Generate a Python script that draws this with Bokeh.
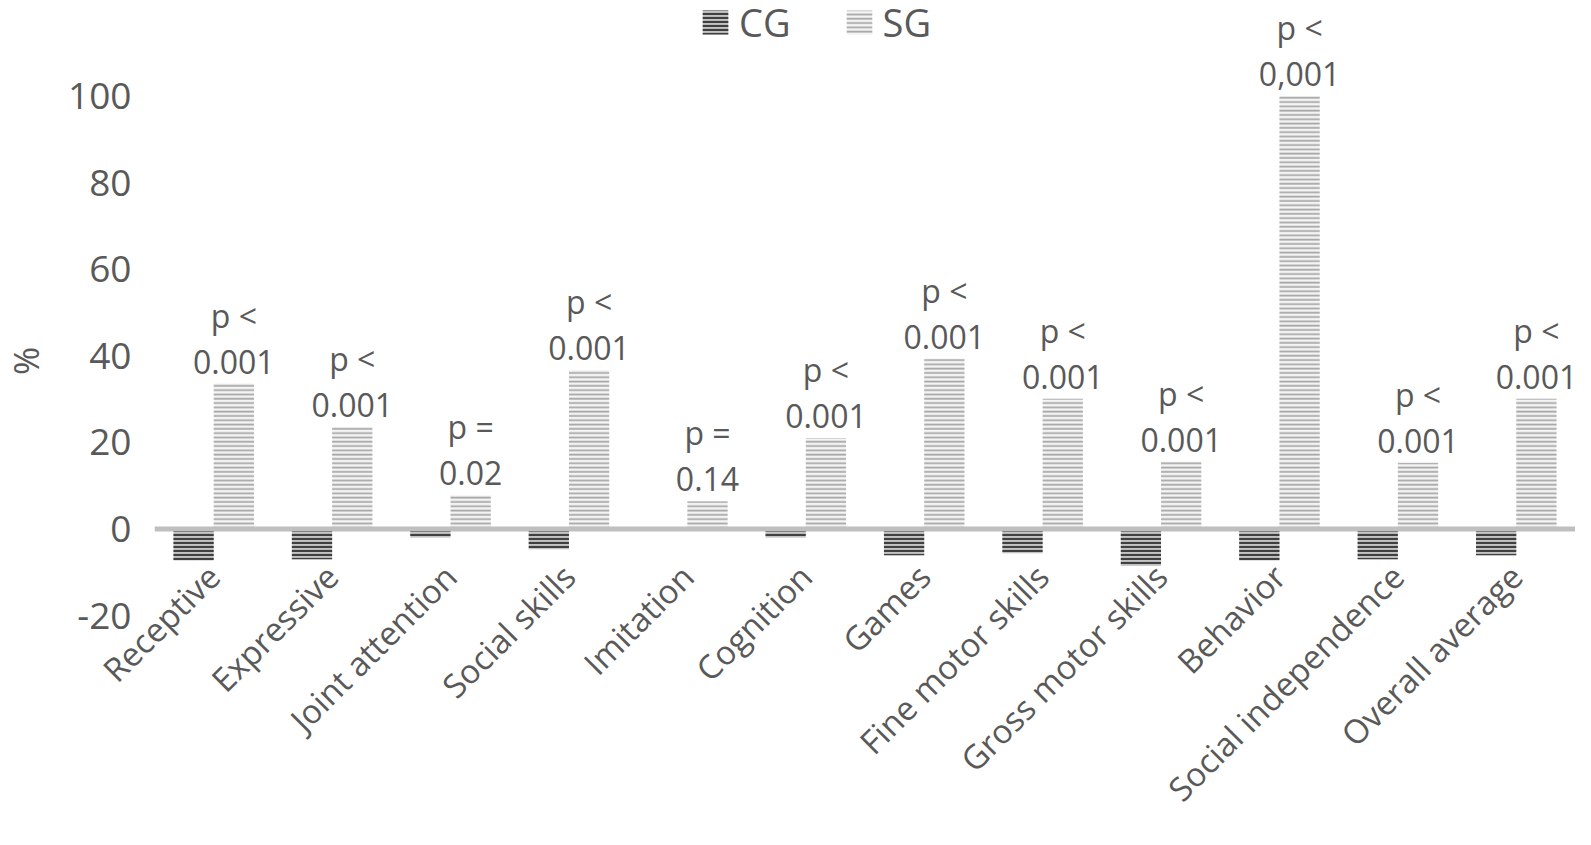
import math
from bokeh.plotting import figure
from bokeh.models import (ColumnDataSource, FactorRange, Range1d, FixedTicker, Span, Legend,
                          LegendItem, LabelSet)
from bokeh.transform import dodge
from bokeh.core.properties import value
from bokeh.embed import file_html
from bokeh.resources import INLINE

categories = ["Receptive", "Expressive", "Joint attention", "Social skills", "Imitation",
              "Cognition", "Games", "Fine motor skills", "Gross motor skills", "Behavior",
              "Social independence", "Overall average"]
cg = [-7.3, -7.0, -2.0, -4.7, 0.0, -2.0, -6.1, -5.6, -8.5, -7.3, -7.0, -6.1]
sg = [33.6, 23.5, 7.8, 36.7, 6.4, 21.0, 39.3, 30.1, 15.5, 100.0, 15.3, 30.1]
p_op = ["p <", "p <", "p =", "p <", "p =", "p <", "p <", "p <", "p <", "p <", "p <", "p <"]
p_val = ["0.001", "0.001", "0.02", "0.001", "0.14", "0.001", "0.001", "0.001", "0.001",
         "0,001", "0.001", "0.001"]
y_ticks = [-20, 0, 20, 40, 60, 80, 100]
y_title = "%"

FONT = "Open Sans"
TXT = "#595959"

src = ColumnDataSource(dict(cat=categories, cg=cg, sg=sg, op=p_op, pv=p_val))

p = figure(x_range=FactorRange(*categories, range_padding=0), y_range=Range1d(-20, 122.1),
           width=1575, height=829, output_backend="svg", toolbar_location=None,
           min_border_left=147, min_border_right=0, min_border_top=0, min_border_bottom=212)
p.outline_line_color = None
p.xgrid.visible = False
p.ygrid.visible = False
p.background_fill_color = "white"

r_cg = p.vbar(x=dodge("cat", -0.17, range=p.x_range), top="cg", bottom=0, width=0.34, source=src,
              fill_color="#c4c4c4", line_color=None,
              hatch_pattern="horizontal_line", hatch_color="#404040", hatch_scale=4, hatch_weight=2.2)
r_sg = p.vbar(x=dodge("cat", 0.17, range=p.x_range), top="sg", bottom=0, width=0.34, source=src,
              fill_color="#f4f4f4", line_color=None,
              hatch_pattern="horizontal_line", hatch_color="#a8a8a8", hatch_scale=4.3, hatch_weight=1.8)

p.add_layout(Span(location=0, dimension="width", line_color="#bfbfbf", line_width=5))

lab2 = LabelSet(x=dodge("cat", 0.17, range=p.x_range), y="sg", text="pv", source=src,
                text_align="center", text_baseline="bottom", y_offset=10,
                text_font=value(FONT), text_font_size="32px", text_color=TXT)
lab1 = LabelSet(x=dodge("cat", 0.17, range=p.x_range), y="sg", text="op", source=src,
                text_align="center", text_baseline="bottom", y_offset=47,
                text_font=value(FONT), text_font_size="32px", text_color=TXT)
p.add_layout(lab2)
p.add_layout(lab1)

# y axis
p.yaxis.ticker = FixedTicker(ticks=y_ticks)
p.yaxis.major_label_overrides = {-20: "-20"}
p.yaxis.axis_line_color = None
p.yaxis.major_tick_line_color = None
p.yaxis.minor_tick_line_color = None
p.yaxis.major_tick_out = 0
p.yaxis.major_tick_in = 0
p.yaxis.major_label_standoff = 23
p.yaxis.major_label_text_font = FONT
p.yaxis.major_label_text_font_size = "37px"
p.yaxis.major_label_text_color = TXT
# non-breaking spaces shift the title's visible glyph down towards y = 40, as in the original
p.yaxis.axis_label = y_title + "\u00a0" * 12
p.yaxis.axis_label_text_font = FONT
p.yaxis.axis_label_text_font_size = "34px"
p.yaxis.axis_label_text_font_style = "normal"
p.yaxis.axis_label_text_color = TXT
p.yaxis.axis_label_standoff = 16

# x axis
p.xaxis.axis_line_color = None
p.xaxis.major_tick_line_color = None
p.xaxis.minor_tick_line_color = None
p.xaxis.major_tick_out = 0
p.xaxis.major_tick_in = 0
p.xaxis.major_label_orientation = math.pi / 4
p.xaxis.major_label_standoff = -45
p.xaxis.major_label_text_font = FONT
p.xaxis.major_label_text_font_size = "33px"
p.xaxis.major_label_text_color = TXT

legend = Legend(items=[LegendItem(label="CG", renderers=[r_cg]), LegendItem(label="SG", renderers=[r_sg])],
                orientation="horizontal", location=(545, 567),
                border_line_color=None, background_fill_alpha=0,
                label_text_font=FONT, label_text_font_size="38px", label_text_color=TXT,
                glyph_width=32, glyph_height=30, spacing=52, padding=0, margin=0,
                label_standoff=8)
p.add_layout(legend)

open("out.html", "w").write(file_html(p, INLINE))
